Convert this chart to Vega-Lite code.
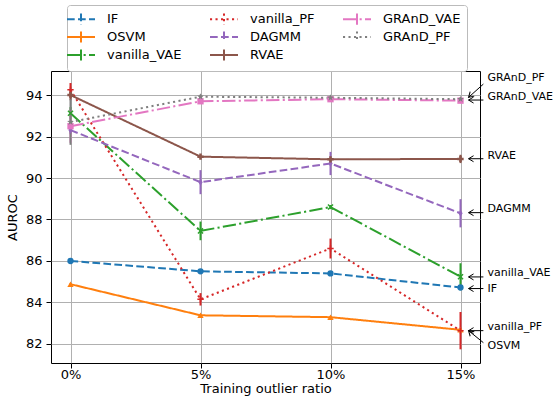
{
  "$schema": "https://vega.github.io/schema/vega-lite/v6.json",
  "autosize": {"type": "none"},
  "padding": {"left": 51, "top": 71, "right": 73, "bottom": 38},
  "width": 429,
  "height": 292,
  "background": "white",
  "config": {
    "font": "DejaVu Sans",
    "view": {"stroke": "black", "strokeWidth": 1},
    "axis": {
      "labelFontSize": 13, "titleFontSize": 13, "labelColor": "black", "titleColor": "black",
      "titleFontWeight": "normal", "tickColor": "black", "tickSize": 5, "domain": false,
      "gridColor": "#b0b0b0", "gridWidth": 1, "labelPadding": 4
    },
    "legend": {"labelFontSize": 13, "labelColor": "black"},
    "point": {"size": 40, "strokeWidth": 1.5, "opacity": 1, "filled": true}
  },
  "datasets": {
    "main": [
      {"method": "IF", "ratio": 0, "auroc": 86.0, "err": 0.05},
      {"method": "IF", "ratio": 5, "auroc": 85.5, "err": 0.05},
      {"method": "IF", "ratio": 10, "auroc": 85.4, "err": 0.1},
      {"method": "IF", "ratio": 15, "auroc": 84.72, "err": 0.1},
      {"method": "OSVM", "ratio": 0, "auroc": 84.88, "err": 0.05},
      {"method": "OSVM", "ratio": 5, "auroc": 83.38, "err": 0.05},
      {"method": "OSVM", "ratio": 10, "auroc": 83.29, "err": 0.05},
      {"method": "OSVM", "ratio": 15, "auroc": 82.68, "err": 0.05},
      {"method": "vanilla_VAE", "ratio": 0, "auroc": 93.12, "err": 0.3},
      {"method": "vanilla_VAE", "ratio": 5, "auroc": 87.45, "err": 0.45},
      {"method": "vanilla_VAE", "ratio": 10, "auroc": 88.6, "err": 0.1},
      {"method": "vanilla_VAE", "ratio": 15, "auroc": 85.24, "err": 0.65},
      {"method": "vanilla_PF", "ratio": 0, "auroc": 94.25, "err": 0.33},
      {"method": "vanilla_PF", "ratio": 5, "auroc": 84.15, "err": 0.3},
      {"method": "vanilla_PF", "ratio": 10, "auroc": 86.6, "err": 0.48},
      {"method": "vanilla_PF", "ratio": 15, "auroc": 82.64, "err": 0.9},
      {"method": "DAGMM", "ratio": 0, "auroc": 92.31, "err": 0.2},
      {"method": "DAGMM", "ratio": 5, "auroc": 89.8, "err": 0.58},
      {"method": "DAGMM", "ratio": 10, "auroc": 90.7, "err": 0.56},
      {"method": "DAGMM", "ratio": 15, "auroc": 88.3, "err": 0.68},
      {"method": "RVAE", "ratio": 0, "auroc": 94.0, "err": 0.25},
      {"method": "RVAE", "ratio": 5, "auroc": 91.03, "err": 0.05},
      {"method": "RVAE", "ratio": 10, "auroc": 90.9, "err": 0.05},
      {"method": "RVAE", "ratio": 15, "auroc": 90.92, "err": 0.2},
      {"method": "GRAnD_VAE", "ratio": 0, "auroc": 92.5, "err": 0.8},
      {"method": "GRAnD_VAE", "ratio": 5, "auroc": 93.7, "err": 0.1},
      {"method": "GRAnD_VAE", "ratio": 10, "auroc": 93.8, "err": 0.1},
      {"method": "GRAnD_VAE", "ratio": 15, "auroc": 93.73, "err": 0.1},
      {"method": "GRAnD_PF", "ratio": 0, "auroc": 92.7, "err": 1.1},
      {"method": "GRAnD_PF", "ratio": 5, "auroc": 93.92, "err": 0.1},
      {"method": "GRAnD_PF", "ratio": 10, "auroc": 93.87, "err": 0.1},
      {"method": "GRAnD_PF", "ratio": 15, "auroc": 93.8, "err": 0.1}
    ],
    "notes": [
      {"label": "GRAnD_PF", "ty": 94.80, "ay": 94.53, "hy": 93.89},
      {"label": "GRAnD_VAE", "ty": 93.89, "ay": 93.76, "hy": 93.76},
      {"label": "RVAE", "ty": 91.07, "ay": 90.93, "hy": 90.93},
      {"label": "DAGMM", "ty": 88.49, "ay": 88.33, "hy": 88.33},
      {"label": "vanilla_VAE", "ty": 85.41, "ay": 85.23, "hy": 85.23},
      {"label": "IF", "ty": 84.64, "ay": 84.67, "hy": 84.67},
      {"label": "vanilla_PF", "ty": 82.83, "ay": 82.64, "hy": 82.64},
      {"label": "OSVM", "ty": 81.90, "ay": 82.06, "hy": 82.64}
    ]
  },
  "layer": [
    {
      "data": {"name": "main"},
      "mark": {"type": "line", "strokeWidth": 2},
      "encoding": {
        "x": {"field": "ratio", "type": "quantitative",
              "scale": {"domain": [-0.75, 15.75], "nice": false, "zero": false},
              "axis": {"values": [0, 5, 10, 15], "labelExpr": "datum.value + '%'", "title": "Training outlier ratio", "titlePadding": 1, "labelPadding": 0}},
        "y": {"field": "auroc", "type": "quantitative",
              "scale": {"domain": [81.08, 95.16], "nice": false, "zero": false},
              "axis": {"values": [82, 84, 86, 88, 90, 92, 94], "title": "AUROC", "titlePadding": 6}},
        "color": {"field": "method", "type": "nominal",
                  "scale": {"domain": ["IF", "OSVM", "vanilla_VAE", "vanilla_PF", "DAGMM", "RVAE", "GRAnD_VAE", "GRAnD_PF"],
                            "range": ["#1f77b4", "#ff7f0e", "#2ca02c", "#d62728", "#9467bd", "#8c564b", "#e377c2", "#7f7f7f"]},
                  "legend": {"title": null, "orient": "none", "legendX": 16, "legendY": -66, "columns": 3,
                             "symbolType": "M-2,0H2M0,-0.8V0.8", "symbolSize": 196, "symbolStrokeWidth": 2,
                             "symbolFillColor": "transparent", "labelOffset": 18, "columnPadding": 24, "rowPadding": -2,
                             "padding": 6, "strokeColor": "#bbbbbb", "fillColor": "white", "cornerRadius": 3}},
        "strokeDash": {"field": "method", "type": "nominal",
                       "scale": {"domain": ["IF", "OSVM", "vanilla_VAE", "vanilla_PF", "DAGMM", "RVAE", "GRAnD_VAE", "GRAnD_PF"],
                                 "range": [[7.7, 3.3], [1, 0], [13.3, 3.3, 2.1, 3.3], [2.1, 3.4], [7.7, 3.3], [1, 0], [13.3, 3.3, 2.1, 3.3], [2.1, 3.4]]},
                       "legend": {"title": null}},
        "order": {"field": "ratio"}
      }
    },
    {
      "data": {"name": "main"},
      "transform": [
        {"calculate": "datum.auroc - datum.err", "as": "lo"},
        {"calculate": "datum.auroc + datum.err", "as": "hi"}
      ],
      "mark": {"type": "rule", "strokeWidth": 2},
      "encoding": {
        "x": {"field": "ratio", "type": "quantitative"},
        "y": {"field": "lo", "type": "quantitative"},
        "y2": {"field": "hi"},
        "color": {"field": "method", "type": "nominal"}
      }
    },
    {"data": {"name": "main"}, "transform": [{"filter": "datum.method == 'IF'"}],
     "mark": {"type": "point", "shape": "circle", "color": "#1f77b4"},
     "encoding": {"x": {"field": "ratio", "type": "quantitative"}, "y": {"field": "auroc", "type": "quantitative"}}},
    {"data": {"name": "main"}, "transform": [{"filter": "datum.method == 'OSVM'"}],
     "mark": {"type": "point", "shape": "triangle-up", "color": "#ff7f0e"},
     "encoding": {"x": {"field": "ratio", "type": "quantitative"}, "y": {"field": "auroc", "type": "quantitative"}}},
    {"data": {"name": "main"}, "transform": [{"filter": "datum.method == 'vanilla_VAE'"}],
     "mark": {"type": "point", "shape": "M-0.8,-0.8L0.8,0.8M-0.8,0.8L0.8,-0.8", "color": "#2ca02c", "filled": false},
     "encoding": {"x": {"field": "ratio", "type": "quantitative"}, "y": {"field": "auroc", "type": "quantitative"}}},
    {"data": {"name": "main"}, "transform": [{"filter": "datum.method == 'vanilla_PF'"}],
     "mark": {"type": "point", "shape": "M-1,0H1M0,-1V1", "color": "#d62728", "filled": false},
     "encoding": {"x": {"field": "ratio", "type": "quantitative"}, "y": {"field": "auroc", "type": "quantitative"}}},
    {"data": {"name": "main"}, "transform": [{"filter": "datum.method == 'DAGMM'"}],
     "mark": {"type": "point", "shape": "M0,-1L0.6,0L0,1L-0.6,0Z", "color": "#9467bd", "size": 50},
     "encoding": {"x": {"field": "ratio", "type": "quantitative"}, "y": {"field": "auroc", "type": "quantitative"}}},
    {"data": {"name": "main"}, "transform": [{"filter": "datum.method == 'RVAE'"}],
     "mark": {"type": "point", "shape": "cross", "color": "#8c564b"},
     "encoding": {"x": {"field": "ratio", "type": "quantitative"}, "y": {"field": "auroc", "type": "quantitative"}}},
    {"data": {"name": "main"}, "transform": [{"filter": "datum.method == 'GRAnD_VAE'"}],
     "mark": {"type": "point", "shape": "square", "color": "#e377c2"},
     "encoding": {"x": {"field": "ratio", "type": "quantitative"}, "y": {"field": "auroc", "type": "quantitative"}}},
    {"data": {"name": "main"}, "transform": [{"filter": "datum.method == 'GRAnD_PF'"}],
     "mark": {"type": "point", "shape": "M0,-1L0.24,-0.33L0.95,-0.31L0.38,0.12L0.59,0.81L0,0.4L-0.59,0.81L-0.38,0.12L-0.95,-0.31L-0.24,-0.33Z", "color": "#7f7f7f", "size": 50},
     "encoding": {"x": {"field": "ratio", "type": "quantitative"}, "y": {"field": "auroc", "type": "quantitative"}}},
    {
      "data": {"name": "notes"},
      "mark": {"type": "text", "align": "left", "baseline": "middle", "fontSize": 11, "color": "black"},
      "encoding": {
        "x": {"datum": 16.04, "type": "quantitative"},
        "y": {"field": "ty", "type": "quantitative"},
        "text": {"field": "label"}
      }
    },
    {
      "data": {"name": "notes"},
      "mark": {"type": "rule", "strokeWidth": 1, "color": "black"},
      "encoding": {
        "x": {"datum": 15.88, "type": "quantitative"},
        "x2": {"datum": 15.31},
        "y": {"field": "ay", "type": "quantitative"},
        "y2": {"field": "hy"}
      }
    },
    {
      "data": {"name": "notes"},
      "transform": [{"filter": "datum.label != 'GRAnD_PF' && datum.label != 'OSVM'"}],
      "mark": {"type": "point", "shape": "M1,-0.6L0,0L1,0.6", "size": 100, "filled": false, "color": "black", "strokeWidth": 1},
      "encoding": {
        "x": {"datum": 15.31, "type": "quantitative"},
        "y": {"field": "hy", "type": "quantitative"}
      }
    },
    {
      "data": {"name": "notes"},
      "transform": [{"filter": "datum.label == 'GRAnD_PF'"}],
      "mark": {"type": "point", "shape": "M1,-0.6L0,0L1,0.6", "size": 100, "filled": false, "color": "black", "strokeWidth": 1, "angle": 317},
      "encoding": {
        "x": {"datum": 15.31, "type": "quantitative"},
        "y": {"field": "hy", "type": "quantitative"}
      }
    },
    {
      "data": {"name": "notes"},
      "transform": [{"filter": "datum.label == 'OSVM'"}],
      "mark": {"type": "point", "shape": "M1,-0.6L0,0L1,0.6", "size": 100, "filled": false, "color": "black", "strokeWidth": 1, "angle": 43},
      "encoding": {
        "x": {"datum": 15.31, "type": "quantitative"},
        "y": {"field": "hy", "type": "quantitative"}
      }
    }
  ]
}
